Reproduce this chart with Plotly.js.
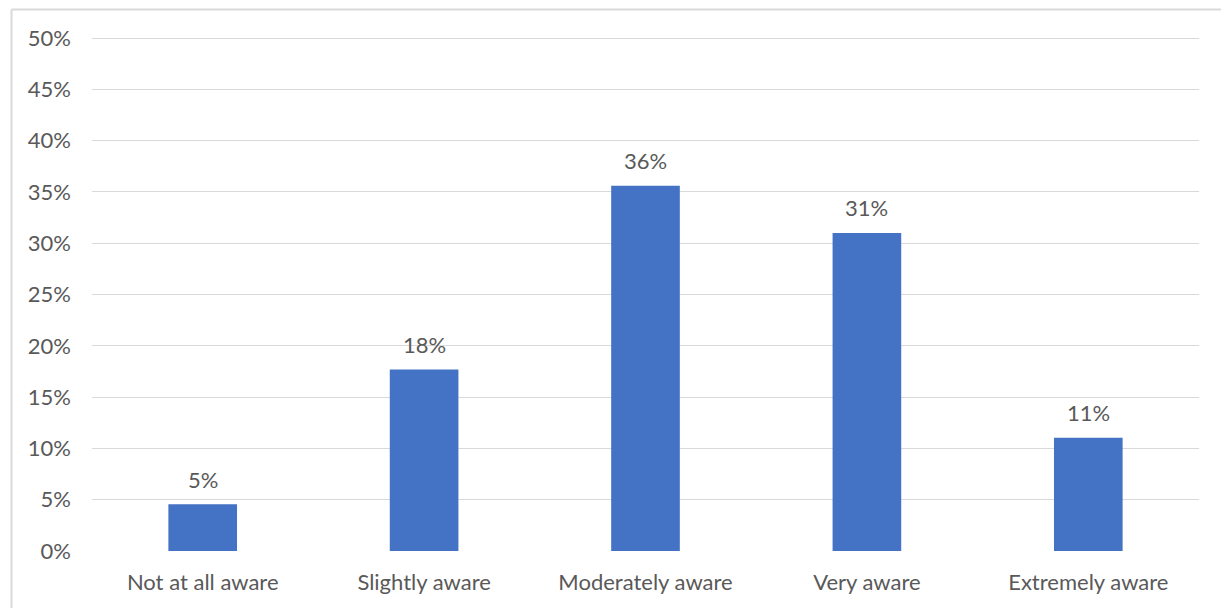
<!DOCTYPE html>
<html>
<head>
<meta charset="utf-8">
<script src="https://cdn.plot.ly/plotly-3.0.1.min.js"></script>
<style>html,body{margin:0;padding:0;background:#fff;}#chart{width:1221px;height:608px;}</style>
</head>
<body>
<div id="chart"></div>
<script>
const categories = ["Not at all aware", "Slightly aware", "Moderately aware", "Very aware", "Extremely aware"];
const values = [4.55, 17.7, 35.6, 31.0, 11.05];
const labels = ["5%", "18%", "36%", "31%", "11%"];
const tickVals = [0, 5, 10, 15, 20, 25, 30, 35, 40, 45, 50];
const tickText = ["0%", "5%", "10%", "15%", "20%", "25%", "30%", "35%", "40%", "45%", "50%"];

const textColor = "#595959";
const gridColor = "#D9D9D9";
const fontFam = "Lato, 'Open Sans', sans-serif";

const trace = {
  type: "bar",
  x: categories,
  y: values,
  marker: {color: "#4472C4"},
  width: 0.31,
  hoverinfo: "skip"
};

const annotations = categories.map((c, i) => ({
  x: c, y: values[i], xref: "x", yref: "y",
  text: labels[i], showarrow: false,
  yanchor: "middle", yshift: 25,
  font: {family: fontFam, size: 22, color: textColor}
}));

// plot area px: x 92..1199, y 36..551
const px = (p) => (p - 92) / 1107;
const py = (p) => (551 - p) / 515;

const layout = {
  width: 1221, height: 608,
  margin: {l: 92, r: 22, t: 36, b: 57},
  paper_bgcolor: "#ffffff", plot_bgcolor: "#ffffff",
  showlegend: false,
  font: {family: fontFam, size: 22, color: textColor},
  xaxis: {
    type: "category",
    showgrid: false, zeroline: false, showline: false,
    ticks: "", ticklabelstandoff: 16,
    tickfont: {family: fontFam, size: 22, color: textColor},
    fixedrange: true
  },
  yaxis: {
    range: [0, 50.2],
    tickvals: tickVals, ticktext: tickText,
    showgrid: true, gridcolor: gridColor, gridwidth: 1,
    zeroline: false, showline: false, ticks: "",
    ticklabelstandoff: 20,
    tickfont: {family: fontFam, size: 22, color: textColor},
    fixedrange: true
  },
  annotations: annotations,
  shapes: [
    {type: "line", xref: "paper", yref: "paper", x0: px(11.5), x1: px(11.5), y0: py(620), y1: py(9.5), line: {color: gridColor, width: 2}},
    {type: "line", xref: "paper", yref: "paper", x0: px(11.5), x1: px(1240), y0: py(9.5), y1: py(9.5), line: {color: gridColor, width: 2}}
  ]
};

Plotly.newPlot("chart", [trace], layout, {displayModeBar: false, staticPlot: true});
</script>
</body>
</html>
